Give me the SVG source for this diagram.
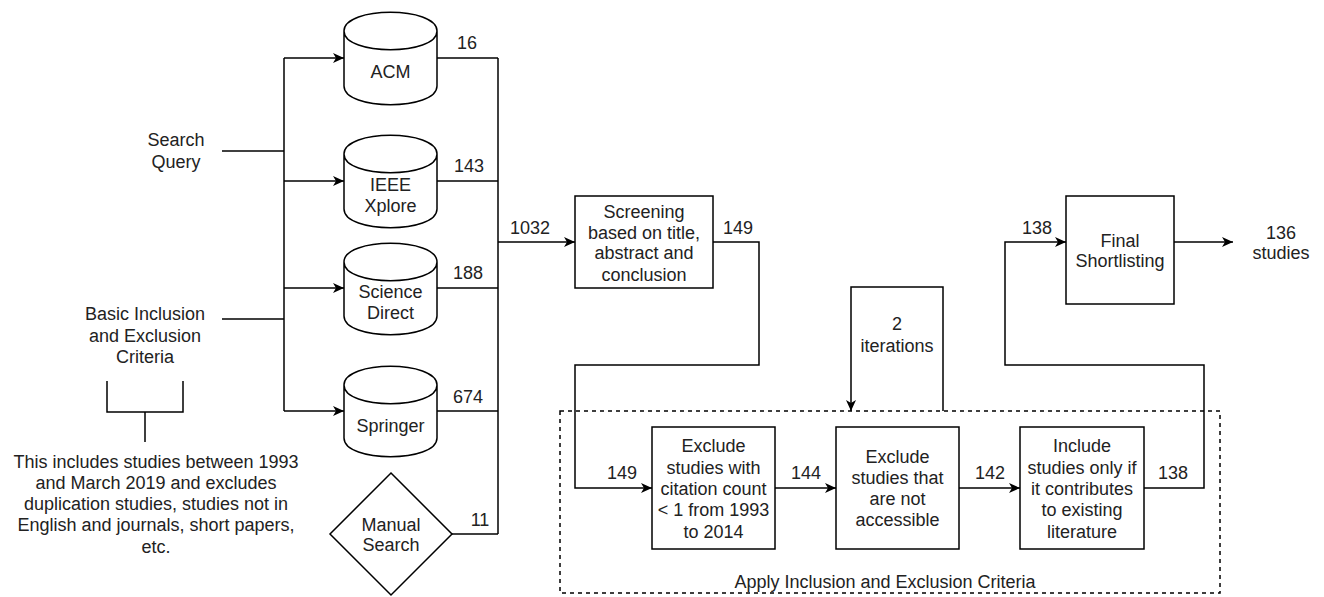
<svg xmlns="http://www.w3.org/2000/svg" width="1324" height="597" viewBox="0 0 1324 597">
<defs>
<style>
.ln{fill:none;stroke:#000;stroke-width:1.5;}
.sh{fill:#fff;stroke:#000;stroke-width:1.5;}
.ar{marker-end:url(#arr);}
text{font-family:"Liberation Sans",Arial,sans-serif;font-size:18px;fill:#222;text-anchor:middle;}
</style>
<marker id="arr" markerUnits="userSpaceOnUse" markerWidth="12" markerHeight="10" refX="11" refY="5" orient="auto">
<path d="M0,0 L11,5 L0,10 L3,5 Z" fill="#000"/>
</marker>
</defs>
<rect width="1324" height="597" fill="#fff"/>

<g id="connectors">
<path class="ln" d="M222,151 H284"/>
<path class="ln" d="M222,319 H284"/>
<path class="ln" d="M284,58 V411"/>
<path class="ln ar" d="M284,58 H344"/>
<path class="ln ar" d="M284,181 H344"/>
<path class="ln ar" d="M284,288 H344"/>
<path class="ln ar" d="M284,411 H344"/>
<path class="ln" d="M437,58 H498"/>
<path class="ln" d="M437,181 H498"/>
<path class="ln" d="M437,288 H498"/>
<path class="ln" d="M437,411 H498"/>
<path class="ln" d="M452,534 H498"/>
<path class="ln" d="M498,58 V534"/>
<path class="ln ar" d="M498,242 H575"/>
<path class="ln ar" d="M713,242 H759 V365 H575 V488 H652"/>
<path class="ln ar" d="M775,488 H836"/>
<path class="ln ar" d="M959,488 H1020"/>
<path class="ln ar" d="M1144,488 H1204 V365 H1005 V242 H1066"/>
<path class="ln ar" d="M1174,242 H1233"/>
<path class="ln ar" d="M943,411 V287 H851 V411"/>
<path class="ln" d="M107,381 V412 H183 V381 M145,412 V442"/>
<text x="467" y="49">16</text>
<text x="469" y="172">143</text>
<text x="468" y="279">188</text>
<text x="468" y="403">674</text>
<text x="480" y="526">11</text>
<text x="530" y="234">1032</text>
<text x="738" y="234">149</text>
<text x="622" y="479">149</text>
<text x="806" y="479">144</text>
<text x="990" y="479">142</text>
<text x="1173" y="479">138</text>
<text x="1037" y="234">138</text>
</g>

<g id="search-query">
<text x="176" y="146">Search</text>
<text x="176" y="168">Query</text>
</g>

<g id="basic-criteria">
<text x="145" y="320">Basic Inclusion</text>
<text x="145" y="342">and Exclusion</text>
<text x="145" y="363">Criteria</text>
</g>

<g id="criteria-note">
<text x="156" y="468">This includes studies between 1993</text>
<text x="156" y="489">and March 2019 and excludes</text>
<text x="156" y="510">duplication studies, studies not in</text>
<text x="156" y="531">English and journals, short papers,</text>
<text x="156" y="553">etc.</text>
</g>

<g id="acm">
<path class="sh" d="M344,31 C344,6 437,6 437,31 V86 C437,111 344,111 344,86 Z M344,31 C344,56 437,56 437,31"/>
<text x="390.5" y="78">ACM</text>
</g>

<g id="ieee">
<path class="sh" d="M344,154 C344,129 437,129 437,154 V209 C437,234 344,234 344,209 Z M344,154 C344,179 437,179 437,154"/>
<text x="390.5" y="191">IEEE</text>
<text x="390.5" y="212">Xplore</text>
</g>

<g id="science-direct">
<path class="sh" d="M344,262 C344,237 437,237 437,262 V316 C437,341 344,341 344,316 Z M344,262 C344,287 437,287 437,262"/>
<text x="390.5" y="298">Science</text>
<text x="390.5" y="319">Direct</text>
</g>

<g id="springer">
<path class="sh" d="M344,385 C344,360 437,360 437,385 V438 C437,463 344,463 344,438 Z M344,385 C344,410 437,410 437,385"/>
<text x="390.5" y="432">Springer</text>
</g>

<g id="manual-search">
<path class="sh" d="M391,473 L452,534 L391,595 L330,534 Z"/>
<text x="391" y="531">Manual</text>
<text x="391" y="551">Search</text>
</g>

<g id="screening">
<rect class="sh" x="575" y="196" width="138" height="92"/>
<text x="644" y="218">Screening</text>
<text x="644" y="239">based on title,</text>
<text x="644" y="259">abstract and</text>
<text x="644" y="281">conclusion</text>
</g>

<g id="iterations">
<text x="897" y="330">2</text>
<text x="897" y="352">iterations</text>
</g>

<g id="apply-criteria">
<rect x="560" y="411" width="660" height="182" fill="none" stroke="#000" stroke-width="1.5" stroke-dasharray="4,4"/>
<text x="885" y="588">Apply Inclusion and Exclusion Criteria</text>
</g>

<g id="citation-filter">
<rect class="sh" x="652" y="427" width="123" height="122"/>
<text x="713.5" y="452">Exclude</text>
<text x="713.5" y="474">studies with</text>
<text x="713.5" y="495">citation count</text>
<text x="713.5" y="516">&lt; 1 from 1993</text>
<text x="713.5" y="538">to 2014</text>
</g>

<g id="access-filter">
<rect class="sh" x="836" y="427" width="123" height="122"/>
<text x="897.5" y="463">Exclude</text>
<text x="897.5" y="484">studies that</text>
<text x="897.5" y="505">are not</text>
<text x="897.5" y="526">accessible</text>
</g>

<g id="contribution-filter">
<rect class="sh" x="1020" y="427" width="124" height="122"/>
<text x="1082" y="452">Include</text>
<text x="1082" y="474">studies only if</text>
<text x="1082" y="495">it contributes</text>
<text x="1082" y="516">to existing</text>
<text x="1082" y="538">literature</text>
</g>

<g id="final-shortlisting">
<rect class="sh" x="1066" y="196" width="108" height="108"/>
<text x="1120" y="247">Final</text>
<text x="1120" y="267">Shortlisting</text>
</g>

<g id="result">
<text x="1281" y="239">136</text>
<text x="1281" y="259">studies</text>
</g>
</svg>
